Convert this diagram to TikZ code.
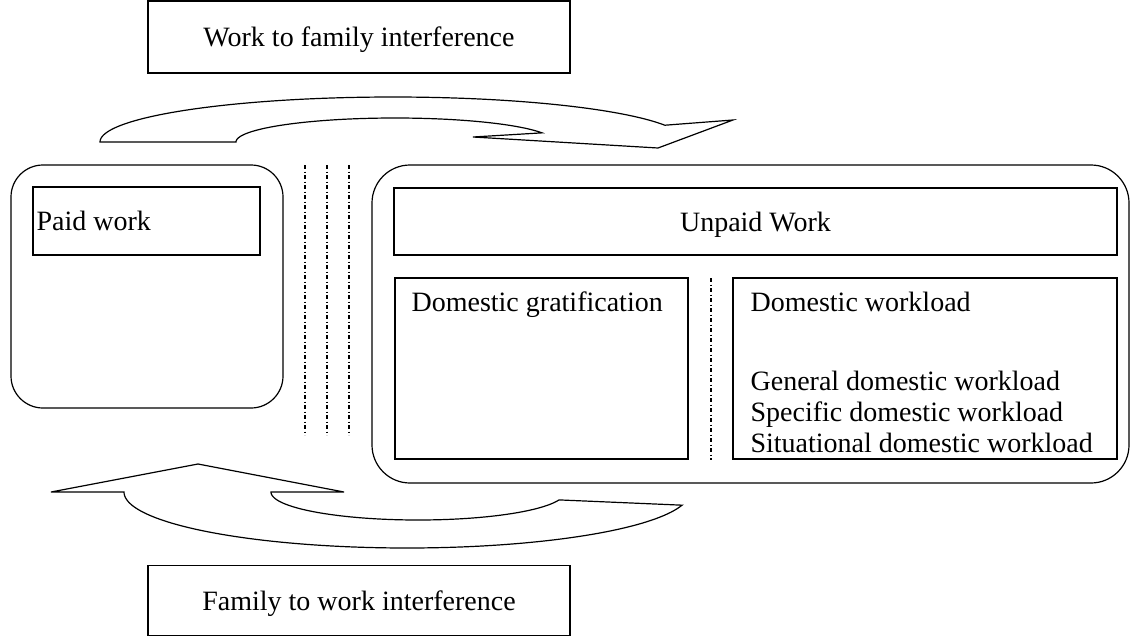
\documentclass[tikz,border=0pt]{standalone}
\usepackage{fontspec}
\setmainfont{Liberation Serif}
\begin{document}
\begin{tikzpicture}[x=1pt,y=-1pt,line width=1.2pt,
  box/.style={draw,rectangle,inner sep=0pt},
  lbl/.style={inner sep=0pt,font=\fontsize{28}{34}\selectfont,text height=19pt,text depth=0pt},
  sep/.style={line width=1.1pt,dash pattern=on 4pt off 2.5pt on 1pt off 2.5pt}]
\useasboundingbox (0,0) rectangle (1131,637);
% top and bottom boxes
\node[box,minimum width=422pt,minimum height=72pt,lbl] (wfi) at (359,37) {Work to family interference};
\node[box,minimum width=422pt,minimum height=70pt,lbl] (fwi) at (359,600.5) {Family to work interference};
% left rounded container
\node[box,rounded corners=32pt,minimum width=272pt,minimum height=243pt] (paidc) at (147,286.5) {};
\node[box,minimum width=227pt,minimum height=68pt] (paid) at (146.5,221) {};
\node[lbl,anchor=west] (paidt) at (36,221) {Paid work};
% separators
\draw[sep] (305,165) -- (305,435);
\draw[sep] (327,165) -- (327,435);
\draw[sep] (349,165) -- (349,435);
% right rounded container
\node[box,rounded corners=38pt,minimum width=757pt,minimum height=318pt] (unpc) at (750.5,324) {};
\node[box,minimum width=723pt,minimum height=67pt,lbl] (unp) at (755.5,221.5) {Unpaid Work};
\node[box,minimum width=293pt,minimum height=181pt] (dg) at (541.5,368.5) {};
\node[lbl,anchor=west] (dgt) at (411,302) {Domestic gratification};
\node[box,minimum width=384pt,minimum height=181pt] (dw) at (925,368.5) {};
\node[lbl,anchor=west] (dwt) at (750,302) {Domestic workload};
\node[lbl,anchor=west] (dw1) at (750,381) {General domestic workload};
\node[lbl,anchor=west] (dw2) at (750,412) {Specific domestic workload};
\node[lbl,anchor=west] (dw3) at (750,443) {Situational domestic workload};
\draw[sep] (711,278) -- (711,460);
% top curved arrow
\draw[line join=miter]
  plot[domain=180:21.9,samples=90] ({393+293*cos(\x)},{142-45*sin(\x)})
  -- (733,120) -- (658,148) -- (473,137)
  -- plot[domain=22.4:180,samples=90] ({395+159*cos(\x)},{142-24*sin(\x)})
  -- cycle;
% bottom curved arrow
\draw[line join=miter]
  (198,464) -- (344,492)
  -- plot[domain=180:16.4,samples=90] ({418+147*cos(\x)},{492+28*sin(\x)})
  -- plot[domain=13.6:180,samples=90] ({407+283*cos(\x)},{492+56*sin(\x)})
  -- (51,492) -- cycle;
\end{tikzpicture}
\end{document}
